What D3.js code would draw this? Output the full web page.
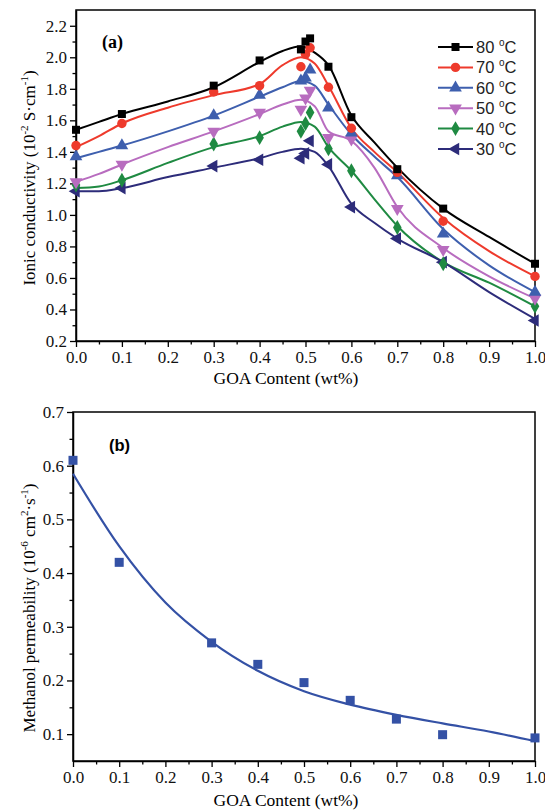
<!DOCTYPE html>
<html>
<head>
<meta charset="utf-8">
<script src="https://cdn.jsdelivr.net/npm/d3@7"></script>
<style>
  body { margin: 0; background: #fff; }
  svg { display: block; }
</style>
</head>
<body>
<div id="chart"></div>
<script>
// ---- data: panel (a) ionic conductivity ----
const goaPts = [0, 0.1, 0.3, 0.4, 0.49, 0.5, 0.51, 0.55, 0.6, 0.7, 0.8, 1.0];
const tempLabels = ["80", "70", "60", "50", "40", "30"];
const cond80 = [1.54, 1.64, 1.82, 1.98, 2.05, 2.10, 2.12, 1.94, 1.62, 1.29, 1.04, 0.69];
const cond70 = [1.44, 1.58, 1.78, 1.82, 1.94, 2.02, 2.06, 1.81, 1.55, 1.27, 0.96, 0.61];
const cond60 = [1.37, 1.44, 1.63, 1.76, 1.85, 1.87, 1.92, 1.68, 1.52, 1.25, 0.88, 0.51];
const cond50 = [1.21, 1.32, 1.53, 1.65, 1.67, 1.74, 1.79, 1.49, 1.48, 1.04, 0.78, 0.47];
const cond40 = [1.19, 1.22, 1.45, 1.49, 1.53, 1.58, 1.65, 1.42, 1.28, 0.92, 0.69, 0.42];
const cond30 = [1.15, 1.17, 1.31, 1.35, 1.36, 1.39, 1.47, 1.32, 1.05, 0.85, 0.70, 0.33];

// fitted curves
const fitX = [0, 0.05, 0.1, 0.2, 0.3, 0.4, 0.45, 0.49, 0.52, 0.55, 0.6, 0.65, 0.7, 0.8, 0.9, 1.0];
const fit80 = [1.54, 1.59, 1.64, 1.72, 1.81, 1.97, 2.04, 2.07, 2.03, 1.95, 1.63, 1.46, 1.30, 1.04, 0.86, 0.69];
const fit70 = [1.43, 1.50, 1.58, 1.68, 1.76, 1.83, 1.95, 2.00, 1.96, 1.82, 1.55, 1.40, 1.27, 0.98, 0.77, 0.61];
const fit60 = [1.36, 1.40, 1.44, 1.53, 1.63, 1.75, 1.81, 1.85, 1.82, 1.70, 1.51, 1.37, 1.24, 0.91, 0.68, 0.51];
const fit50 = [1.21, 1.26, 1.32, 1.43, 1.53, 1.64, 1.70, 1.73, 1.69, 1.53, 1.47, 1.30, 1.05, 0.79, 0.61, 0.47];
const fit40 = [1.17, 1.18, 1.22, 1.33, 1.43, 1.50, 1.56, 1.59, 1.56, 1.43, 1.28, 1.10, 0.93, 0.70, 0.57, 0.42];
const fit30 = [1.15, 1.15, 1.17, 1.24, 1.30, 1.36, 1.40, 1.42, 1.40, 1.31, 1.07, 0.95, 0.85, 0.70, 0.51, 0.34];

// ---- data: panel (b) methanol permeability ----
const permX = [0, 0.1, 0.3, 0.4, 0.5, 0.6, 0.7, 0.8, 1.0];
const permVals = [0.61, 0.42, 0.27, 0.23, 0.196, 0.163, 0.128, 0.099, 0.093];
const permFitX = [0, 0.1, 0.2, 0.3, 0.4, 0.5, 0.6, 0.7, 0.8, 0.9, 1.0];
const permFit = [0.585, 0.45, 0.345, 0.272, 0.218, 0.18, 0.155, 0.136, 0.12, 0.105, 0.087];

const xTicks = d3.range(0, 11).map(i => i / 10);
const xMinor = d3.range(1, 20, 2).map(i => i / 20);
const yTicksA = d3.range(1, 12).map(i => i / 5);          // 0.2 .. 2.2
const yMinorA = d3.range(3, 23, 2).map(i => i / 10);      // 0.3 .. 2.1
const yTicksB = d3.range(1, 8).map(i => i / 10);          // 0.1 .. 0.7
const yMinorB = d3.range(3, 14, 2).map(i => i / 20);      // 0.15 .. 0.65

const series = [
  { t: tempLabels[0], pts: cond80, fit: fit80, color: "#000000", sym: d3.symbolSquare, size: 64, rot: 0 },
  { t: tempLabels[1], pts: cond70, fit: fit70, color: "#ee3a2c", sym: d3.symbolCircle, size: 70, rot: 0 },
  { t: tempLabels[2], pts: cond60, fit: fit60, color: "#3e5fae", sym: d3.symbolTriangle, size: 70, rot: 0 },
  { t: tempLabels[3], pts: cond50, fit: fit50, color: "#b86cbf", sym: d3.symbolTriangle, size: 70, rot: 180 },
  { t: tempLabels[4], pts: cond40, fit: fit40, color: "#1f8a42", sym: d3.symbolDiamond, size: 64, rot: 0 },
  { t: tempLabels[5], pts: cond30, fit: fit30, color: "#2d2c7a", sym: d3.symbolTriangle, size: 70, rot: -90 }
];

const W = 545, H = 812;
const svg = d3.select("#chart").append("svg")
  .attr("width", W).attr("height", H);

const serif = "'Liberation Serif', 'Times New Roman', serif";
const sans = "'Liberation Sans', Arial, sans-serif";

function drawAxes(x, y, yMajor, yMinor, fmt) {
  const [x0, x1] = x.range();
  const [yb, yt] = y.range();

  // frame
  svg.append("rect")
    .attr("x", x0).attr("y", yt)
    .attr("width", x1 - x0).attr("height", yb - yt)
    .attr("fill", "none").attr("stroke", "#000").attr("stroke-width", 1.5);

  // x axis
  const gx = svg.append("g").attr("transform", `translate(0,${yb})`)
    .call(d3.axisBottom(x).tickValues(xTicks).tickSize(6).tickSizeOuter(0).tickPadding(4)
      .tickFormat(d3.format(".1f")));
  svg.append("g").attr("transform", `translate(0,${yb})`)
    .call(d3.axisBottom(x).tickValues(xMinor).tickSize(3.5).tickSizeOuter(0).tickFormat(""))
    .select(".domain").remove();

  // y axis
  const gy = svg.append("g").attr("transform", `translate(${x0},0)`)
    .call(d3.axisLeft(y).tickValues(yMajor).tickSize(6).tickSizeOuter(0).tickPadding(3)
      .tickFormat(d3.format(fmt)));
  svg.append("g").attr("transform", `translate(${x0},0)`)
    .call(d3.axisLeft(y).tickValues(yMinor).tickSize(3.5).tickSizeOuter(0).tickFormat(""))
    .select(".domain").remove();

  [gx, gy].forEach(g => {
    g.select(".domain").attr("stroke-width", 1.5);
    g.selectAll("text").style("font-family", serif).style("font-size", "17px").attr("fill", "#111");
  });
  svg.selectAll(".tick line").attr("stroke-width", 1.3);
}

function xTitle(x, yPos) {
  svg.append("text")
    .attr("x", 286).attr("y", yPos)
    .attr("text-anchor", "middle")
    .style("font-family", serif).style("font-size", "17.5px")
    .text("GOA Content (wt%)");
}

// ================= panel (a) =================
const xA = d3.scaleLinear().domain([0, 1]).range([76, 535]);
const yA = d3.scaleLinear().domain([0.2, 2.3]).range([341, 10]);
drawAxes(xA, yA, yTicksA, yMinorA, ".1f");
xTitle(xA, 384);

const line = (x, y) => d3.line().x(d => x(d[0])).y(d => y(d[1])).curve(d3.curveMonotoneX);

series.forEach(s => {
  svg.append("path")
    .datum(fitX.map((v, i) => [v, s.fit[i]]))
    .attr("d", line(xA, yA))
    .attr("fill", "none").attr("stroke", s.color).attr("stroke-width", 2);
});
series.slice().reverse().forEach(s => {
  svg.selectAll(null)
    .data(goaPts.map((v, i) => [v, s.pts[i]]))
    .enter().append("path")
    .attr("d", d3.symbol().type(s.sym).size(s.size))
    .attr("transform", d => `translate(${xA(d[0])},${yA(d[1])}) rotate(${s.rot})`)
    .attr("fill", s.color);
});

// legend
const leg = svg.append("g");
series.forEach((s, i) => {
  const ly = 47 + i * 20.4;
  leg.append("line").attr("x1", 438).attr("x2", 473).attr("y1", ly).attr("y2", ly)
    .attr("stroke", s.color).attr("stroke-width", 2);
  leg.append("path")
    .attr("d", d3.symbol().type(s.sym).size(s.size))
    .attr("transform", `translate(455.5,${ly}) rotate(${s.rot})`)
    .attr("fill", s.color);
  const t = leg.append("text").attr("x", 476).attr("y", ly + 6)
    .style("font-family", sans).style("font-size", "16.5px").attr("fill", "#222");
  t.append("tspan").text(s.t + " ");
  t.append("tspan").attr("dy", -7).style("font-size", "10px").text("o");
  t.append("tspan").attr("dy", 7).text("C");
});

svg.append("text").attr("x", 102).attr("y", 48)
  .style("font-family", serif).style("font-size", "18px").style("font-weight", "bold")
  .text("(a)");

// y title (a)
const ta = svg.append("text")
  .attr("transform", "translate(35,178) rotate(-90)")
  .attr("text-anchor", "middle")
  .style("font-family", serif).style("font-size", "17px");
ta.append("tspan").text("Ionic conductivity (10");
ta.append("tspan").attr("dy", -7).style("font-size", "11px").text("-2");
ta.append("tspan").attr("dy", 7).text(" S·cm");
ta.append("tspan").attr("dy", -7).style("font-size", "11px").text("-1");
ta.append("tspan").attr("dy", 7).text(")");

// ================= panel (b) =================
const xB = d3.scaleLinear().domain([0, 1]).range([73, 535]);
const yB = d3.scaleLinear().domain([0.05, 0.7]).range([761, 412]);
drawAxes(xB, yB, yTicksB, yMinorB, ".1f");
xTitle(xB, 806);

const permColor = "#3451a5";
svg.append("path")
  .datum(permFitX.map((v, i) => [v, permFit[i]]))
  .attr("d", line(xB, yB))
  .attr("fill", "none").attr("stroke", permColor).attr("stroke-width", 2.2);

svg.selectAll(null)
  .data(permX.map((v, i) => [v, permVals[i]]))
  .enter().append("rect")
  .attr("x", d => xB(d[0]) - 4.5).attr("y", d => yB(d[1]) - 4.5)
  .attr("width", 9).attr("height", 9)
  .attr("fill", permColor);

svg.append("text").attr("x", 109).attr("y", 451)
  .style("font-family", sans).style("font-size", "16.5px").style("font-weight", "bold")
  .text("(b)");

const tb = svg.append("text")
  .attr("transform", "translate(35,608) rotate(-90)")
  .attr("text-anchor", "middle")
  .style("font-family", serif).style("font-size", "17px");
tb.append("tspan").text("Methanol permeability (10");
tb.append("tspan").attr("dy", -7).style("font-size", "11px").text("-6");
tb.append("tspan").attr("dy", 7).text(" cm");
tb.append("tspan").attr("dy", -7).style("font-size", "11px").text("2");
tb.append("tspan").attr("dy", 7).text("·s");
tb.append("tspan").attr("dy", -7).style("font-size", "11px").text("-1");
tb.append("tspan").attr("dy", 7).text(")");
</script>
</body>
</html>
